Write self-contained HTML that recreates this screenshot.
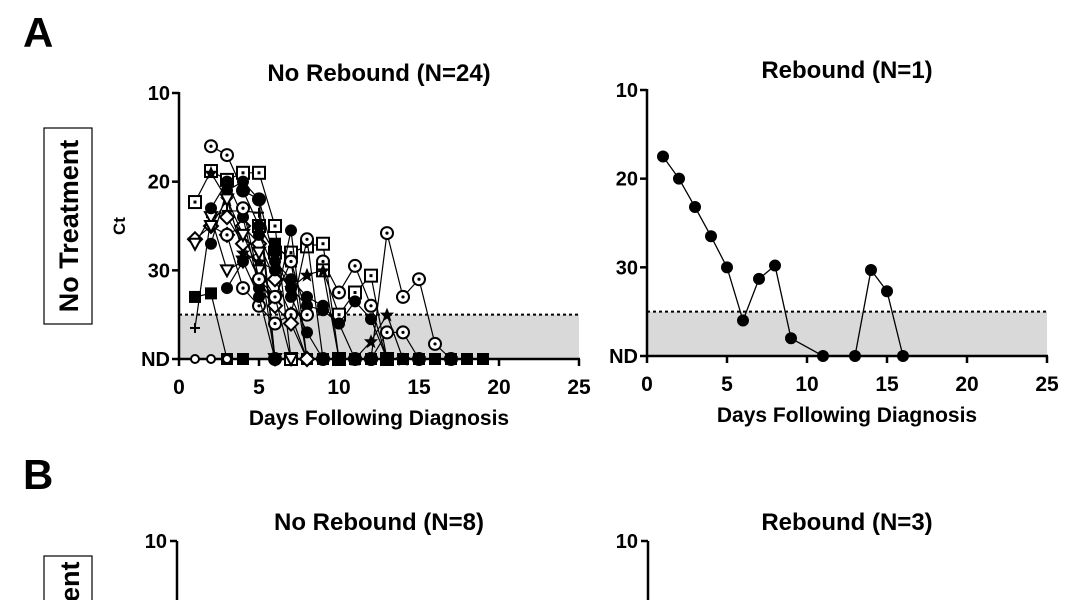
<!DOCTYPE html>
<html><head><meta charset="utf-8"><style>
body{margin:0;background:#fff;}
svg{display:block;font-family:"Liberation Sans",Arial,sans-serif;font-weight:bold;}
</style></head><body>
<svg id="fig" width="1082" height="600" viewBox="0 0 1082 600">
<text x="23" y="47" font-size="42">A</text>
<text x="23" y="489" font-size="42">B</text>
<rect x="44" y="128" width="48" height="196" fill="none" stroke="#000" stroke-width="1.2"/>
<text transform="translate(78,226) rotate(-90)" text-anchor="middle" font-size="27">No Treatment</text>
<rect x="44" y="556" width="48" height="60" fill="none" stroke="#000" stroke-width="1.2"/>
<text transform="translate(79,602) rotate(-90)" text-anchor="start" font-size="27">ent</text>
<text transform="translate(125,226) rotate(-90)" text-anchor="middle" font-size="17">Ct</text>
<text x="379" y="81" text-anchor="middle" font-size="24">No Rebound (N=24)</text>
<text x="847" y="78" text-anchor="middle" font-size="24">Rebound (N=1)</text>
<text x="379" y="530" text-anchor="middle" font-size="24">No Rebound (N=8)</text>
<text x="847" y="530" text-anchor="middle" font-size="24">Rebound (N=3)</text>
<g id="pl"></g><g id="pr"></g>
<g>
<line x1="177" y1="541" x2="177" y2="600" stroke="#000" stroke-width="2.5"/>
<line x1="170" y1="541" x2="177" y2="541" stroke="#000" stroke-width="2.5"/>
<text x="167" y="548" text-anchor="end" font-size="20">10</text></g>
<g>
<line x1="648" y1="541" x2="648" y2="600" stroke="#000" stroke-width="2.5"/>
<line x1="641" y1="541" x2="648" y2="541" stroke="#000" stroke-width="2.5"/>
<text x="638" y="548" text-anchor="end" font-size="20">10</text></g>
</svg>
<script>
const xTicks=[0,5,10,15,20,25];
const yTicks=[10,20,30,40];
const yTickLabels=["10","20","30","ND"];
const LOD=35;
const rbDays=[1,2,3,4,5,6,7,8,9,11,13,14,15,16];
const rbCt=[17.5,20,23.2,26.5,30,36,31.3,29.8,38,40,40,30.3,32.7,40];
const nrMarkers=["cdot","sqdot","sqdot","cdot","cdot","fsq","plus","sqdot","dia","fc","star","tri","cdot","fc","cdot","star","fc","fsq","oc","fc","dia","tri","fc","cdot"];
const nrDays=[
[2,3,4,5,6],[1,2,3,4,5,6,7],[5,6,7,8,9,10],[9,10,11,12,13],[12,13,14,15,16,17],
[1,2,3,4],[1,2,3,4,5,6],[9,10,11,12,13],[1,2,3,4,5,6,7,8],[2,3,4,5,6,7,8,9,10,11,12,13],
[2,3,4,5,6,7,8,9,10],[1,2,3,4,5,6],[3,4,5,6,7,8,9],[3,4,5,6],[11,12,13,14,15],
[11,12,13,14],[2,3,4,5,6,7,8],[6,7,8,9,10,11,12,13,14,15,16,17,18,19],[1,2,3],[4,5,6,7,8,9],
[3,4,5,6,7,8],[2,3,4,5,6,7],[5,6,7,8,9,10,11],[4,5,6,7,8]];
const nrCt=[
[16,17,21,22,40],[22.3,18.8,19.8,19,19,25,40],[25,28,28,27.3,27,40],[29,32.5,29.5,34,40],[40,25.8,33,31,38.3,40],
[33,32.6,40,40],[36.5,24,23.3,23.3,23.5,40],[30,35,32.5,30.6,40],[26.5,25,26,25,27,31,35,40],[27,21,20,22,29,31,33,34,36,33.5,35.5,40],
[19,22,28,29,30,32,30.5,30,40],[27,24,30,29,28,40],[26,32,34,36,35,26.5,40],[32,29,33,40],[40,40,37,37,40],
[40,38,35,40],[23,20,24,32,34,25.5,40],[27,29,40,40,40,40,40,40,40,40,40,40,40,40],[40,40,40],[21,25,28,33,37,40],
[24,27,31,34,36,40],[25,22,26,30,33,40],[26,30,32,34,34.5,36,40],[23,31,33,29,35]];

const NS="http://www.w3.org/2000/svg";
function mk(tag,attrs,parent){const e=document.createElementNS(NS,tag);for(const k in attrs)e.setAttribute(k,attrs[k]);parent.appendChild(e);return e;}
function panel(g,x0,x1,y10,y40){
  const sx=d=>x0+(x1-x0)*d/25, sy=c=>y10+(y40-y10)*(c-10)/30;
  const shade=mk('rect',{x:x0,y:sy(LOD),width:x1-x0,height:sy(40)-sy(LOD),fill:'#d9d9d9'},g);
  
  
  const lod=mk('line',{x1:x0,x2:x1,y1:sy(LOD),y2:sy(LOD),stroke:'#000','stroke-width':2,'stroke-dasharray':'3,3'},g);
  
  
  const ax=mk('g',{},g);
  
  
  mk('line',{x1:x0,x2:x0,y1:y10-1,y2:y40+1,stroke:'#000','stroke-width':2.5},ax);
  mk('line',{x1:x0-1,x2:x1+1,y1:y40,y2:y40,stroke:'#000','stroke-width':2.5},ax);
  xTicks.forEach(t=>{mk('line',{x1:sx(t),x2:sx(t),y1:y40,y2:y40+7,stroke:'#000','stroke-width':2.5},ax);
    const tx=mk('text',{x:sx(t),y:y40+35,'text-anchor':'middle','font-size':21},ax);tx.textContent=t;});
  yTicks.forEach((t,i)=>{mk('line',{x1:x0-7,x2:x0,y1:sy(t),y2:sy(t),stroke:'#000','stroke-width':2.5},ax);
    const tx=mk('text',{x:x0-9,y:sy(t)+7,'text-anchor':'end','font-size':20},ax);tx.textContent=yTickLabels[i];});
  const xl=mk('text',{x:(x0+x1)/2,y:y40+66,'text-anchor':'middle','font-size':21},g);
  xl.textContent='Days Following Diagnosis';
  
  
  return {sx,sy};
}
function marker(g,type,x,y){
  const r=6,s={stroke:'#000','stroke-width':2};
  if(type==='fc')mk('circle',{cx:x,cy:y,r:r,fill:'#000'},g);
  else if(type==='oc')mk('circle',{cx:x,cy:y,r:4,fill:'#fff',...s},g);
  else if(type==='cdot'){mk('circle',{cx:x,cy:y,r:r,fill:'#fff',...s},g);mk('circle',{cx:x,cy:y,r:1.6,fill:'#000'},g);}
  else if(type==='sqdot'){mk('rect',{x:x-r,y:y-r,width:2*r,height:2*r,fill:'#fff',...s},g);mk('rect',{x:x-1.5,y:y-1.5,width:3,height:3,fill:'#000'},g);}
  else if(type==='fsq')mk('rect',{x:x-r,y:y-r,width:2*r,height:2*r,fill:'#000'},g);
  else if(type==='dia')mk('polygon',{points:`${x},${y-7} ${x+7},${y} ${x},${y+7} ${x-7},${y}`,fill:'#fff',...s},g);
  else if(type==='tri')mk('polygon',{points:`${x-6},${y-5} ${x+6},${y-5} ${x},${y+6}`,fill:'#fff',...s},g);
  else if(type==='plus'){mk('line',{x1:x-5,x2:x+5,y1:y,y2:y,...s},g);mk('line',{x1:x,x2:x,y1:y-5,y2:y+5,...s},g);}
  else if(type==='star')mk('polygon',{points:`${x},${y-7} ${x+2},${y-2} ${x+7},${y-2} ${x+3},${y+2} ${x+4.5},${y+7} ${x},${y+4} ${x-4.5},${y+7} ${x-3},${y+2} ${x-7},${y-2} ${x-2},${y-2}`,fill:'#000'},g);
}
const pl=document.getElementById('pl');
const L=panel(pl,179,579,93,359);
nrDays.forEach((days,i)=>{
  const sg=mk('g',{},pl);
  
  
  mk('polyline',{points:days.map((d,j)=>L.sx(d)+','+L.sy(nrCt[i][j])).join(' '),fill:'none',stroke:'#000','stroke-width':1.2},sg);
  days.forEach((d,j)=>marker(sg,nrMarkers[i],L.sx(d),L.sy(nrCt[i][j])));
});
const pr=document.getElementById('pr');
const R=panel(pr,647,1047,90,356);
const rg=mk('g',{},pr);


mk('polyline',{points:rbDays.map((d,j)=>R.sx(d)+','+R.sy(rbCt[j])).join(' '),fill:'none',stroke:'#000','stroke-width':1.3},rg);
rbDays.forEach((d,j)=>marker(rg,'fc',R.sx(d),R.sy(rbCt[j])));
</script>
</body></html>
